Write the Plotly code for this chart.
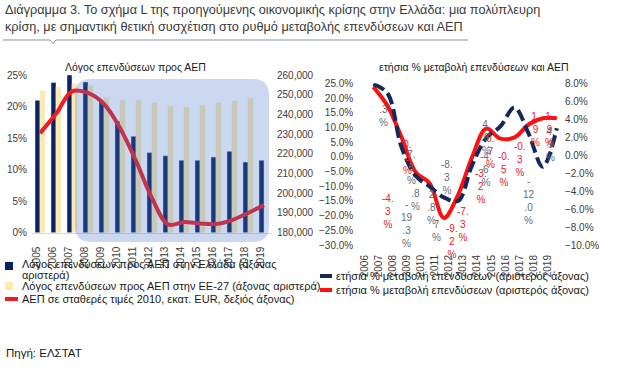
import plotly.graph_objects as go

W, H = 626, 376
FONT = "Liberation Sans, Arial, sans-serif"

# ---------------- data ----------------
years_left = list(range(2005, 2020))
gr_ratio = [21.0, 23.8, 25.0, 23.9, 20.9, 17.7, 15.3, 12.7, 12.2, 11.5, 11.5, 12.0, 12.9, 11.2, 11.5]
eu_ratio = [22.5, 23.1, 23.6, 23.3, 21.4, 21.0, 21.0, 20.6, 20.0, 19.9, 20.2, 20.6, 20.9, 21.3, None]
gdp_const = [230500, 240300, 251700, 250900, 245300, 233100, 216400, 197600,
             184200, 185400, 184700, 184400, 186400, 190000, 194000]

years_right = list(range(2006, 2020))
chg_red = [23.8, 17.4, 6.7, -5.2, -9.1, -20.8, -13.0, -0.1, 9.6, 6.2, 6.6, 11.0, 13.1, 13.1]     # left axis
chg_navy = [7.9, 6.9, 0.9, -2.3, -3.5, -4.7, -5.1, -1.1, 1.9, 3.2, 5.3, 2.4, -1.3, 3.0]         # right axis

# data-label texts (as printed in the picture) and where they sit (year, left-axis %)
gray_texts = ["19<br>.2<br>%", ".3<br>%", "7.<br>5<br>%", "-<br>19<br>.3<br>%", ".8<br>%",
              "2<br>.8<br>%", "7<br>%", "-8.<br>3<br>%", "4.<br>6<br>%", "-4.<br>6<br>%",
              "-<br>12<br>.0<br>%", "4.<br>9<br>%"]
gray_pos_x = [2004.92, 2006.69, 2008.74, 2008.39, 2009.02, 2010.09, 2010.51, 2011.22,
              2014.05, 2013.98, 2017.03, 2018.52]
gray_pos_y = [27.5, 18.6, 3.4, -13.6, -9.9, -10.2, -20.4, 0.0, 13.6, 2.7, -5.8, 11.2]

red_texts = ["5.<br>6<br>%", "3.<br>2<br>%", "0.<br>3<br>%", "-4.<br>3<br>%", "-9.<br>2<br>%",
             "-7.<br>3<br>%", "-3.<br>2<br>%", "0.<br>7<br>%", "-0.<br>5<br>%", "-0.<br>3<br>%",
             "1.<br>9<br>%", "1.<br>9<br>%"]
red_pos_x = [2004.77, 2005.41, 2008.39, 2007.04, 2011.58, 2012.35, 2013.63, 2014.27,
             2015.26, 2016.39, 2017.46, 2018.45]
red_pos_y = [17.3, 12.2, 6.8, -11.6, -21.8, -16.0, -3.1, 8.8, 2.7, 6.1, 16.3, 16.3]

NAVY = "#0b2263"
BEIGE = "#fde9a8"
RED = "#ee1c25"
DASHNAVY = "#14285c"
GRAYLBL = "#5f6b7d"
AXCOL = "#3c3c3c"


def px(x):
    return x / W


def py(y):
    return 1 - y / H


fig = go.Figure()

# left chart
fig.add_trace(go.Bar(x=years_left, y=gr_ratio, marker_color=NAVY, xaxis="x", yaxis="y",
                     showlegend=False))
fig.add_trace(go.Bar(x=years_left, y=eu_ratio, marker_color=BEIGE, xaxis="x", yaxis="y",
                     showlegend=False))
fig.add_trace(go.Scatter(x=years_left, y=gdp_const, mode="lines",
                         line=dict(color=RED, width=4, shape="spline", smoothing=1.0),
                         xaxis="x", yaxis="y2", showlegend=False))

# right chart
fig.add_trace(go.Scatter(x=years_right, y=chg_navy, mode="lines",
                         line=dict(color=DASHNAVY, width=4, dash="12px,5px", shape="spline", smoothing=1.0),
                         xaxis="x2", yaxis="y4", showlegend=False))
fig.add_trace(go.Scatter(x=years_right, y=chg_red, mode="lines",
                         line=dict(color="#ff1010", width=4, shape="spline", smoothing=1.0),
                         xaxis="x2", yaxis="y3", showlegend=False))

tickfont = dict(family=FONT, size=10, color=AXCOL)

fig.update_layout(
    width=W, height=H,
    margin=dict(l=0, r=0, t=0, b=0, autoexpand=False),
    paper_bgcolor="white", plot_bgcolor="rgba(0,0,0,0)",
    barmode="group", bargap=0.375, bargroupgap=0,
    font=dict(family=FONT, color=AXCOL),
    xaxis=dict(domain=[px(32), px(272)], range=[2004.5, 2019.5], tickmode="array",
               tickvals=years_left, tickangle=-90, tickfont=tickfont, showgrid=False,
               zeroline=False, showline=True, linecolor="#d9d9d9", linewidth=1,
               ticks="", ticklabelstandoff=9, ticklabelshift=-3, anchor="y", automargin=False),
    yaxis=dict(domain=[py(232.7), py(75)], range=[0, 25], dtick=5, ticksuffix="%",
               tickfont=tickfont, showgrid=False, zeroline=False, ticks="",
               ticklabelstandoff=4, anchor="x", automargin=False),
    yaxis2=dict(domain=[py(232.7), py(75)], range=[180000, 260000], dtick=10000,
                tickformat=",", overlaying="y", side="right", tickfont=tickfont,
                showgrid=False, zeroline=False, ticks="", ticklabelstandoff=4, anchor="x",
                automargin=False),
    xaxis2=dict(domain=[px(366.2), px(563.9)], range=[2005.5, 2019.5], tickmode="array",
                tickvals=years_right, tickangle=-90, tickfont=tickfont, showgrid=False,
                zeroline=False, showline=False, ticks="", ticklabelstandoff=7,
                ticklabelshift=-9, anchor="y3", automargin=False),
    yaxis3=dict(domain=[py(245), py(83.3)], range=[-30, 25], dtick=5, tickformat=".1f",
                ticksuffix="%", tickfont=tickfont, showgrid=False, zeroline=False,
                ticks="", ticklabelstandoff=12, anchor="x2", automargin=False),
    yaxis4=dict(domain=[py(245), py(83.3)], range=[-10, 8], dtick=2, tickformat=".1f",
                ticksuffix="%", overlaying="y3", side="right", tickfont=tickfont,
                showgrid=False, zeroline=False, ticks="", ticklabelstandoff=0, anchor="x2",
                automargin=False),
)

ann = []
# headline
ann.append(dict(text="Διάγραμμα 3. Το σχήμα L της προηγούμενης οικονομικής κρίσης στην Ελλάδα: μια πολύπλευρη",
                x=px(3), y=py(10), xanchor="left", yanchor="middle", showarrow=False,
                font=dict(family=FONT, size=12.7, color="#3a3a3a")))
ann.append(dict(text="κρίση, με σημαντική θετική συσχέτιση στο ρυθμό μεταβολής επενδύσεων και ΑΕΠ",
                x=px(3), y=py(27), xanchor="left", yanchor="middle", showarrow=False,
                font=dict(family=FONT, size=12.7, color="#3a3a3a")))
# chart titles
ann.append(dict(text="Λόγος επενδύσεων προς ΑΕΠ", x=px(135), y=py(67), xanchor="center",
                yanchor="middle", showarrow=False, font=dict(family=FONT, size=10.5, color="#1a1a1a")))
ann.append(dict(text="ετήσια % μεταβολή επενδύσεων και ΑΕΠ", x=px(474), y=py(67), xanchor="center",
                yanchor="middle", showarrow=False, font=dict(family=FONT, size=10.5, color="#1a1a1a")))

# data labels right chart
for t, xv, yv in zip(gray_texts, gray_pos_x, gray_pos_y):
    ann.append(dict(text=t, x=xv, y=yv, xref="x2", yref="y3", xanchor="center", yanchor="top",
                    showarrow=False, font=dict(family=FONT, size=10, color=GRAYLBL)))
for t, xv, yv in zip(red_texts, red_pos_x, red_pos_y):
    ann.append(dict(text=t, x=xv, y=yv, xref="x2", yref="y3", xanchor="center", yanchor="top",
                    showarrow=False, font=dict(family=FONT, size=10, color="#e8202a")))

# legends (manual)
legfont = dict(family=FONT, size=11, color="#1a1a1a")
leg_rows = [("Λόγος επενδύσεων προς ΑΕΠ στην Ελλάδα (άξονας", 20, 264),
            ("αριστερά)", 20, 275),
            ("Λόγος επενδύσεων προς ΑΕΠ στην ΕΕ-27 (άξονας αριστερά)", 20, 286),
            ("ΑΕΠ σε σταθερές τιμές 2010, εκατ. EUR, δεξιός άξονας)", 20, 299),
            ("ετήσια % μεταβολή επενδύσεων (αριστερός άξονας)", 334, 276),
            ("ετήσια % μεταβολή επενδύσεων (αριστερός άξονας)", 334, 290)]
for t, xx, yy in leg_rows:
    ann.append(dict(text=t, x=px(xx), y=py(yy), xanchor="left", yanchor="middle",
                    showarrow=False, font=legfont))
ann.append(dict(text="Πηγή: ΕΛΣΤΑΤ", x=px(4), y=py(353), xanchor="left", yanchor="middle",
                showarrow=False, font=dict(family=FONT, size=11.5, color="#1a1a1a")))

for a in ann:
    a.setdefault("xref", "paper")
    a.setdefault("yref", "paper")
fig.update_layout(annotations=ann)

shapes = []
# rounded translucent highlight
x0, x1, y0, y1 = px(75), px(269), py(242), py(79)
rx, ry = 16 / W, 16 / H
path = (f"M {x0+rx},{y1} L {x1-rx},{y1} Q {x1},{y1} {x1},{y1-ry} L {x1},{y0+ry} "
        f"Q {x1},{y0} {x1-rx},{y0} L {x0+rx},{y0} Q {x0},{y0} {x0},{y0+ry} "
        f"L {x0},{y1-ry} Q {x0},{y1} {x0+rx},{y1} Z")
shapes.append(dict(type="path", path=path, xref="paper", yref="paper",
                   fillcolor="rgba(68,114,196,0.28)", line=dict(width=0), layer="above"))
# headline rule with notch
hp = (f"M {px(3)},{py(40)} L {px(50)},{py(40)} L {px(53)},{py(43.5)} L {px(56)},{py(40)} "
      f"L {px(468)},{py(40)}")
shapes.append(dict(type="path", path=hp, xref="paper", yref="paper",
                   line=dict(color="#8a8f99", width=1)))
# legend keys
shapes.append(dict(type="rect", xref="paper", yref="paper", x0=px(5), x1=px(13), y0=py(270), y1=py(262),
                   fillcolor=NAVY, line=dict(width=0)))
shapes.append(dict(type="rect", xref="paper", yref="paper", x0=px(5), x1=px(13), y0=py(290), y1=py(282),
                   fillcolor=BEIGE, line=dict(width=0)))
shapes.append(dict(type="rect", xref="paper", yref="paper", x0=px(5), x1=px(18), y0=py(301), y1=py(297),
                   fillcolor=RED, line=dict(width=0)))
shapes.append(dict(type="rect", xref="paper", yref="paper", x0=px(320), x1=px(332), y0=py(278), y1=py(274),
                   fillcolor=DASHNAVY, line=dict(width=0)))
shapes.append(dict(type="rect", xref="paper", yref="paper", x0=px(320), x1=px(332), y0=py(292), y1=py(288),
                   fillcolor="#ff1010", line=dict(width=0)))
fig.update_layout(shapes=shapes)

fig.write_html("out.html", config={"displayModeBar": False},
               post_script="document.body.style.margin='0px';")
